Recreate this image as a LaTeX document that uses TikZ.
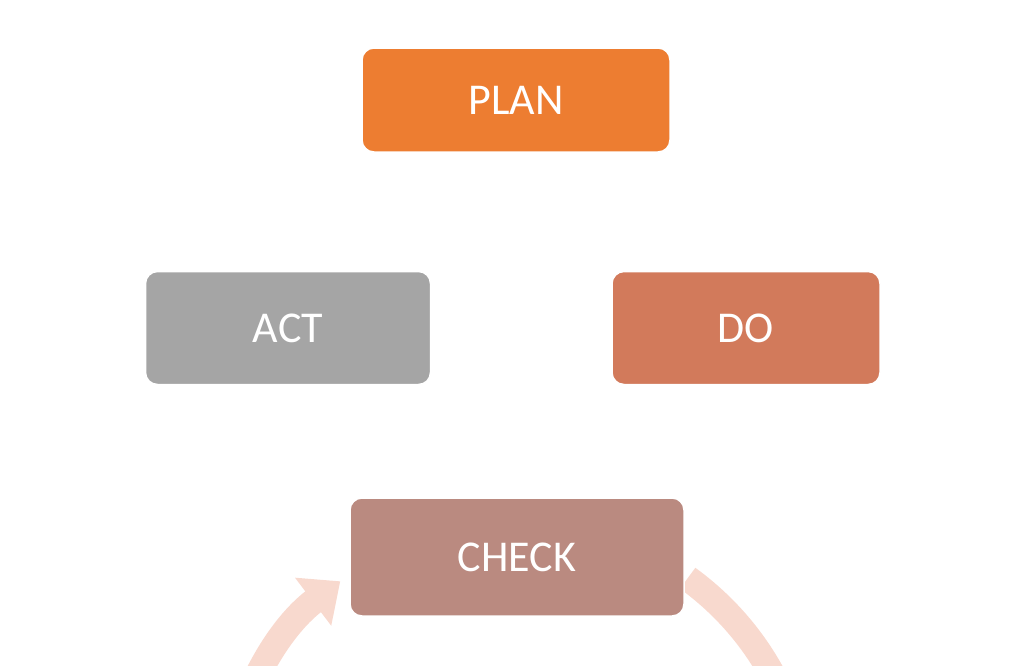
\documentclass[tikz,border=0pt]{standalone}
\usepackage{fontspec}
\setmainfont{Carlito}
\usetikzlibrary{arrows.meta}
\definecolor{ringc}{HTML}{F8D9CE}
\definecolor{planc}{HTML}{ED7D31}
\definecolor{doc}{HTML}{D27A5B}
\definecolor{checkc}{HTML}{BA8A80}
\definecolor{actc}{HTML}{A5A5A5}
\begin{document}
\begin{tikzpicture}[x=1pt,y=-1pt,
  stepbox/.style={draw=white,line width=1.5pt,rounded corners=12pt,text=white,
    font=\fontsize{44}{50}\selectfont,inner sep=0pt}]
\useasboundingbox (0,0) rectangle (1024,665);
\coordinate (c) at (516,342);
\draw[ringc,line width=26pt,-{Triangle[width=58pt,length=34pt]}]
  ([shift={(54:292)}]c) arc[start angle=-54,end angle=233,radius=292];
\node[stepbox,fill=planc,minimum width=308pt,minimum height=104pt] (plan) at (516,100) {PLAN};
\node[stepbox,fill=doc,minimum width=268pt,minimum height=113pt] (do) at (746,328) {DO};
\node[stepbox,fill=checkc,minimum width=334pt,minimum height=118pt] (check) at (517,557) {CHECK};
\node[stepbox,fill=actc,minimum width=285pt,minimum height=113pt] (act) at (288,328) {ACT};
\end{tikzpicture}
\end{document}
